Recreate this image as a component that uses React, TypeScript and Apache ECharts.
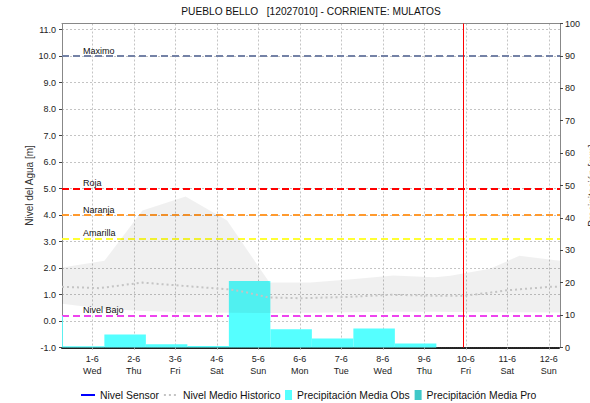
import React, { useEffect, useRef } from 'react';
import * as echarts from 'echarts';

const FONT = '"Liberation Sans", Arial, sans-serif';
const TITLE = 'PUEBLO BELLO   [12027010] - CORRIENTE: MULATOS';

// x axis: hours relative to 1-6 00:00
const dayLabels = ['1-6', '2-6', '3-6', '4-6', '5-6', '6-6', '7-6', '8-6', '9-6', '10-6', '11-6', '12-6'];
const weekdays = ['Wed', 'Thu', 'Fri', 'Sat', 'Sun', 'Mon', 'Tue', 'Wed', 'Thu', 'Fri', 'Sat', 'Sun'];
const dayTickHours = [0, 24, 48, 72, 96, 120, 144, 168, 192, 216, 240, 264];
const xMinHour = -17.5;
const xMaxHour = 270.5;
const nowHour = 214.4;

// daily precipitation (mm), 07:00 to 07:00
const precipStart = [-41, -17, 7, 31, 55, 79, 103, 127, 151, 175];
const precipEnd = [-17, 7, 31, 55, 79, 103, 127, 151, 175, 199];
const precipObs = [9.7, 0.4, 4.0, 1.0, 0.5, 20.5, 5.6, 2.8, 5.9, 1.2];
const precipPro: number[] = [];

// historical range band (m)
const bandHours = [-17.5, 7, 29, 54, 78, 102.5, 126, 150, 174, 198, 207, 230, 247, 270.5];
const bandHigh = [2.02, 2.27, 4.17, 4.7, 3.79, 1.45, 1.45, 1.58, 1.72, 1.65, 1.71, 1.97, 2.46, 2.27];
const bandLow = [0.65, 0.45, 0.38, 0.33, 0.31, 0.3, 0.31, 0.33, 0.35, 0.35, 0.34, 0.33, 0.33, 0.32];

// historical mean level (m)
const meanHours = [-17.5, 4, 29, 46, 66, 78, 85, 102, 120, 149, 172, 201, 215, 230, 240, 265, 270.5];
const meanLevel = [1.29, 1.24, 1.45, 1.36, 1.26, 1.2, 1.14, 0.89, 0.86, 0.91, 0.99, 0.95, 0.95, 1.07, 1.16, 1.29, 1.3];

// sensor level (no data)
const sensorLevel: number[][] = [];

// thresholds
const thresholdNames = ['Maximo', 'Roja', 'Naranja', 'Amarilla', 'Nivel Bajo'];
const thresholdValues = [10.0, 5.0, 4.0, 3.1, 0.2];
const thresholdColors = ['#7482A6', '#FF0000', '#FF9A2E', '#FFFF33', '#EE44EE'];

const levelMin = -1;
const levelMax = 11.23;
const precipMin = 0;
const precipMax = 100;

export default function App() {
  const ref = useRef<HTMLDivElement>(null);
  useEffect(() => {
    document.body.style.margin = '0';
    if (!ref.current) return;
    const chart = echarts.init(ref.current, undefined, { renderer: 'svg' });

    const barRender = (params: any, api: any) => {
      const x0 = api.value(0);
      const x1 = api.value(1);
      const v = api.value(2);
      const p0 = api.coord([x0, v]);
      const p1 = api.coord([x1, 0]);
      const cs = params.coordSys;
      const rect = echarts.graphic.clipRectByRect(
        { x: p0[0], y: p0[1], width: p1[0] - p0[0], height: p1[1] - p0[1] },
        { x: cs.x, y: cs.y, width: cs.width, height: cs.height }
      );
      if (!rect) return null;
      return { type: 'rect', shape: rect, style: { fill: api.visual('color') } };
    };

    const bandRender = (params: any, api: any) => {
      if (params.dataIndex !== 0) return null;
      const upper = bandHours.map((h, i) => api.coord([h, bandHigh[i]]));
      const lower = bandHours.map((h, i) => api.coord([h, bandLow[i]])).reverse();
      return {
        type: 'polygon',
        shape: { points: upper.concat(lower) },
        style: { fill: 'rgba(0,0,0,0.06)' },
      };
    };

    const option: any = {
      animation: false,
      backgroundColor: '#ffffff',
      textStyle: { fontFamily: FONT },
      title: {
        text: TITLE,
        left: 311,
        top: 6,
        padding: 0,
        textAlign: 'center',
        textStyle: { fontSize: 10.2, fontWeight: 'normal', color: '#111', fontFamily: FONT },
      },
      legend: [
        {
          left: 80,
          top: 390,
          padding: 0,
          itemWidth: 14,
          itemHeight: 10,
          itemGap: 4,
          itemStyle: { opacity: 0 },
          textStyle: { fontSize: 10.4, color: '#111', fontFamily: FONT },
          data: ['Nivel Sensor', 'Nivel Medio Historico'],
        },
        {
          left: 285,
          top: 390,
          padding: 0,
          itemWidth: 7,
          itemHeight: 10,
          itemGap: 5,
          icon: 'rect',
          textStyle: { fontSize: 10.4, color: '#111', fontFamily: FONT },
          data: ['Precipitación Media Obs', 'Precipitación Media Pro'],
        },
      ],
      grid: { left: 62, right: 30, top: 23.5, bottom: 55.5, containLabel: false, outerBoundsMode: 'none' },
      xAxis: [
        {
          type: 'value',
          min: xMinHour,
          max: xMaxHour,
          axisLine: { show: true, onZero: false, lineStyle: { color: '#222', type: [1, 1], width: 2 } },
          axisTick: { show: true, length: 2, customValues: dayTickHours, lineStyle: { color: '#999' } },
          axisLabel: {
            customValues: dayTickHours,
            margin: 5,
            fontSize: 9,
            lineHeight: 12,
            color: '#222',
            fontFamily: FONT,
            formatter: (v: number) => {
              const i = dayTickHours.indexOf(Math.round(v));
              return i >= 0 ? dayLabels[i] + '\n' + weekdays[i] : '';
            },
          },
          splitLine: { show: true, lineStyle: { color: '#C4C4C4', type: [2, 2], width: 1 } },
        },
        {
          type: 'value',
          position: 'top',
          min: xMinHour,
          max: xMaxHour,
          axisLine: { show: true, onZero: false, lineStyle: { color: '#888', width: 1 } },
          axisTick: { show: false },
          axisLabel: { show: false },
          splitLine: { show: false },
        },
      ],
      yAxis: [
        {
          type: 'value',
          min: levelMin,
          max: levelMax,
          interval: 1,
          name: 'Nivel del Agua [m]',
          nameLocation: 'middle',
          nameGap: 28,
          nameMoveOverlap: false,
          nameTextStyle: { fontSize: 10, color: '#333', fontFamily: FONT },
          axisLine: { show: true, onZero: false, lineStyle: { color: '#888', width: 1 } },
          axisTick: { show: true, length: 3, lineStyle: { color: '#444' } },
          axisLabel: {
            margin: 6,
            fontSize: 9,
            color: '#222',
            fontFamily: FONT,
            showMaxLabel: false,
            formatter: (v: number) => (Math.abs(v - Math.round(v)) < 0.01 ? v.toFixed(1) : ''),
          },
          splitLine: { show: true, lineStyle: { color: '#C4C4C4', type: [2, 2], width: 1 } },
        },
        {
          type: 'value',
          min: precipMin,
          max: precipMax,
          interval: 10,
          position: 'right',
          name: 'Precipitación [mm]',
          nameLocation: 'middle',
          nameGap: 27,
          nameMoveOverlap: false,
          nameTextStyle: { fontSize: 10, color: '#333', fontFamily: FONT },
          axisLine: { show: true, onZero: false, lineStyle: { color: '#888', width: 1 } },
          axisTick: { show: true, length: 3, lineStyle: { color: '#444' } },
          axisLabel: { margin: 5, fontSize: 9, color: '#222', fontFamily: FONT },
          splitLine: { show: false },
        },
      ],
      series: [
        {
          name: 'Nivel Sensor',
          type: 'line',
          data: sensorLevel,
          symbol: 'none',
          color: '#0000FF',
          lineStyle: { color: '#0000FF', width: 1.5 },
          z: 6,
          markLine: {
            z: 1,
            silent: true,
            symbol: 'none',
            data: thresholdNames.map((n, i) => ({
              name: n,
              yAxis: thresholdValues[i],
              lineStyle: { color: thresholdColors[i], type: [7, 4], width: 2 },
            })),
            label: {
              show: true,
              position: 'insideStartTop',
              distance: [21, 1],
              formatter: '{b}',
              fontSize: 9,
              color: '#111',
              fontFamily: FONT,
            },
          },
        },
        {
          name: 'Precipitación Media Obs',
          type: 'custom',
          xAxisIndex: 0,
          yAxisIndex: 1,
          z: 2,
          color: '#55FFFF',
          itemStyle: { color: '#55FFFF' },
          encode: { x: [0, 1], y: 2 },
          data: precipStart.map((s, i) => [s, precipEnd[i], precipObs[i]]),
          renderItem: barRender,
        },
        {
          name: 'Precipitación Media Pro',
          type: 'custom',
          xAxisIndex: 0,
          yAxisIndex: 1,
          z: 2,
          color: '#40C8C8',
          itemStyle: { color: '#40C8C8' },
          encode: { x: [0, 1], y: 2 },
          data: precipPro,
          renderItem: barRender,
        },
        {
          name: 'band',
          type: 'custom',
          xAxisIndex: 0,
          yAxisIndex: 0,
          z: 3,
          silent: true,
          encode: { x: 0, y: [1, 2] },
          data: bandHours.map((h, i) => [h, bandLow[i], bandHigh[i]]),
          renderItem: bandRender,
        },
        {
          name: 'Nivel Medio Historico',
          type: 'line',
          data: meanHours.map((h, i) => [h, meanLevel[i]]),
          symbol: 'none',
          color: '#C4C4C4',
          lineStyle: { color: '#C4C4C4', type: [2, 3], width: 2 },
          z: 4,
          markLine: {
            z: 5,
            silent: true,
            symbol: 'none',
            label: { show: false },
            data: [{ xAxis: nowHour }],
            lineStyle: { color: '#FF0000', type: 'solid', width: 1 },
          },
        },
      ],
    };
    chart.setOption(option);
    return () => chart.dispose();
  }, []);
  return <div ref={ref} style={{ position: 'absolute', left: 0, top: 0, width: 590, height: 403 }} />;
}
